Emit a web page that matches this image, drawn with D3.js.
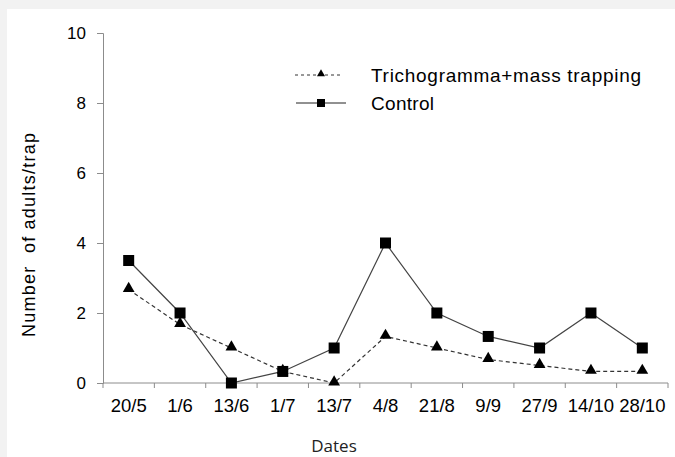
<!DOCTYPE html>
<html>
<head>
<meta charset="utf-8">
<script src="https://cdn.jsdelivr.net/npm/d3@7"></script>
<style>
  body { margin: 0; background: #f2f2f2; }
  svg { display: block; }
</style>
</head>
<body>
<svg id="chart" width="675" height="457"></svg>
<script>
const dates = ["20/5", "1/6", "13/6", "1/7", "13/7", "4/8", "21/8", "9/9", "27/9", "14/10", "28/10"];
const trichogramma = [2.67, 1.67, 1, 0.33, 0, 1.33, 1, 0.67, 0.5, 0.33, 0.33];
const control = [3.5, 2, 0, 0.33, 1, 4, 2, 1.33, 1, 2, 1];
const yTicks = [0, 2, 4, 6, 8, 10];

const svg = d3.select("#chart");
// white panel, grey margin top/left
svg.append("rect").attr("x", 7).attr("y", 9).attr("width", 668).attr("height", 448).attr("fill", "#fff");

const x = d3.scaleBand().domain(dates).range([103, 668]);
const y = d3.scaleLinear().domain([0, 10]).range([383, 33]);

const axisColor = "#8c8c8c";
const font = "'Liberation Sans', Arial, sans-serif";

// y axis
const gy = svg.append("g").attr("transform", "translate(103,0)")
    .call(d3.axisLeft(y).tickValues(yTicks).tickSize(6).tickPadding(11));
gy.select(".domain").attr("stroke", axisColor);
gy.selectAll(".tick line").attr("stroke", axisColor);
gy.selectAll(".tick text").attr("font-family", font).attr("font-size", 17).attr("fill", "#000");

// x axis with ticks between categories
const gx = svg.append("g").attr("transform", "translate(0,383)");
gx.append("line").attr("x1", 103).attr("x2", 668).attr("stroke", axisColor);
const bounds = dates.map(d => x(d)).concat([668]);
gx.selectAll("line.tk").data(bounds).enter().append("line")
    .attr("class", "tk")
    .attr("x1", d => d).attr("x2", d => d)
    .attr("y1", 0).attr("y2", 5)
    .attr("stroke", axisColor);
gx.selectAll("text").data(dates).enter().append("text")
    .attr("x", d => x(d) + x.bandwidth() / 2)
    .attr("y", 29)
    .attr("text-anchor", "middle")
    .attr("font-family", font).attr("font-size", 18.5)
    .attr("fill", "#000")
    .text(d => d);

// axis titles
svg.append("text")
    .attr("transform", "translate(35,235) rotate(-90)")
    .attr("text-anchor", "middle")
    .attr("font-family", font).attr("font-size", 18)
    .attr("textLength", 204)
    .attr("xml:space", "preserve")
    .text("Number  of adults/trap");
svg.append("text")
    .attr("x", 334).attr("y", 452)
    .attr("text-anchor", "middle")
    .attr("font-family", "'Open Sans', sans-serif").attr("font-size", 17)
    .attr("fill", "#222")
    .text("Dates");

const cx = (d, i) => x(dates[i]) + x.bandwidth() / 2;
const line = d3.line().x(cx).y(d => y(d));

svg.append("path").datum(trichogramma)
    .attr("d", line).attr("fill", "none")
    .attr("stroke", "#333").attr("stroke-width", 1.2)
    .attr("stroke-dasharray", "4,3");
svg.append("path").datum(control)
    .attr("d", line).attr("fill", "none")
    .attr("stroke", "#444").attr("stroke-width", 1.2);

const tri = d3.symbol().type(d3.symbolTriangle).size(60);
svg.selectAll("path.tri").data(trichogramma).enter().append("path")
    .attr("class", "tri")
    .attr("d", tri)
    .attr("transform", (d, i) => "translate(" + cx(d, i) + "," + (y(d) - 1) + ")")
    .attr("fill", "#000");
svg.selectAll("rect.sq").data(control).enter().append("rect")
    .attr("class", "sq")
    .attr("x", (d, i) => cx(d, i) - 5.5)
    .attr("y", d => y(d) - 5.5)
    .attr("width", 11).attr("height", 11)
    .attr("fill", "#000");

// legend
const legend = svg.append("g");
legend.append("line").attr("x1", 295).attr("x2", 343).attr("y1", 75).attr("y2", 75)
    .attr("stroke", "#333").attr("stroke-dasharray", "3,3");
legend.append("path").attr("d", d3.symbol().type(d3.symbolTriangle).size(28))
    .attr("transform", "translate(321,74)").attr("fill", "#000");
legend.append("line").attr("x1", 296).attr("x2", 346).attr("y1", 103).attr("y2", 103)
    .attr("stroke", "#222");
legend.append("rect").attr("x", 317).attr("y", 99).attr("width", 8).attr("height", 8).attr("fill", "#000");
legend.append("text").attr("x", 371).attr("y", 82)
    .attr("font-family", font).attr("font-size", 19)
    .attr("textLength", 270)
    .text("Trichogramma+mass trapping");
legend.append("text").attr("x", 371).attr("y", 110)
    .attr("font-family", font).attr("font-size", 19)
    .attr("textLength", 63)
    .text("Control");
</script>
</body>
</html>
